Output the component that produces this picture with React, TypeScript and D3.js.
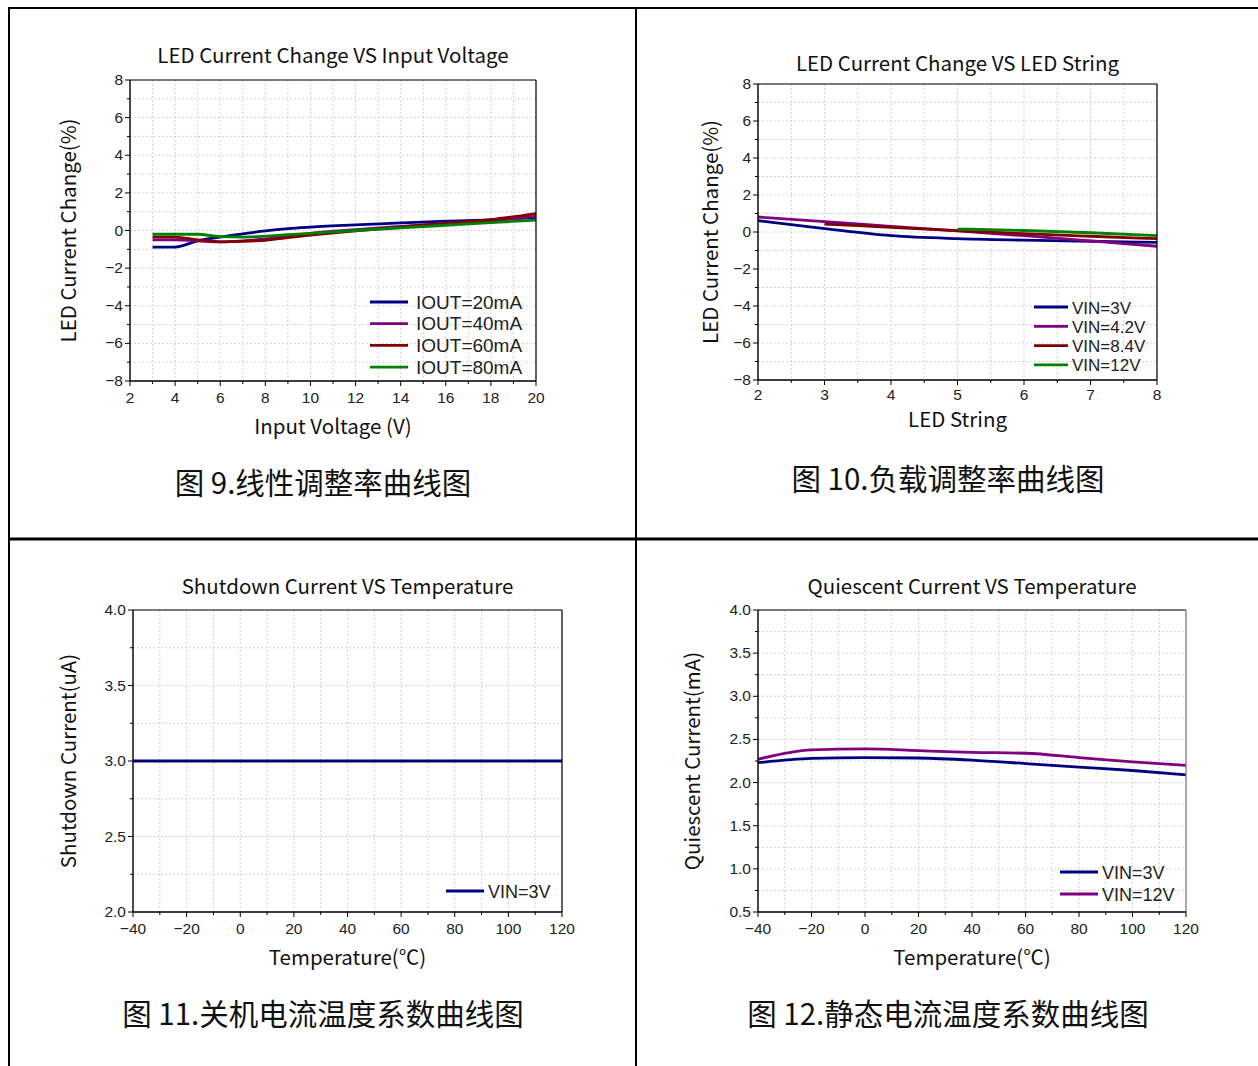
import React from "react";
import * as d3 from "d3";

// ---------- Data ----------
// Chart 1: LED Current Change VS Input Voltage
const vinX = [3, 4, 5, 6, 7, 8, 9, 10, 12, 14, 16, 18, 20];
const iout20 = [-0.88, -0.88, -0.55, -0.35, -0.18, -0.02, 0.1, 0.18, 0.3, 0.4, 0.5, 0.57, 0.7];
const iout40 = [-0.5, -0.5, -0.55, -0.6, -0.55, -0.45, -0.3, -0.15, 0.05, 0.22, 0.38, 0.52, 0.75];
const iout60 = [-0.35, -0.35, -0.5, -0.6, -0.58, -0.52, -0.38, -0.25, -0.02, 0.18, 0.38, 0.58, 0.9];
const iout80 = [-0.2, -0.2, -0.2, -0.33, -0.35, -0.3, -0.22, -0.15, 0.0, 0.14, 0.28, 0.42, 0.55];
const chart1Labels = ["IOUT=20mA", "IOUT=40mA", "IOUT=60mA", "IOUT=80mA"];

// Chart 2: LED Current Change VS LED String
const strX = [2, 3, 4, 5, 6, 7, 8];
const vin3 = [0.61, 0.18, -0.2, -0.36, -0.44, -0.5, -0.56];
const vin42 = [0.81, 0.56, 0.3, 0.06, -0.2, -0.48, -0.77];
const vin84X = [3, 4, 5, 6, 7, 8];
const vin84 = [0.43, 0.25, 0.07, -0.09, -0.23, -0.36];
const vin12X = [5, 6, 7, 8];
const vin12 = [0.16, 0.08, -0.04, -0.2];
const chart2Labels = ["VIN=3V", "VIN=4.2V", "VIN=8.4V", "VIN=12V"];

// Chart 3: Shutdown Current VS Temperature
const tempX = [-40, -20, 0, 20, 40, 60, 80, 100, 120];
const shutdown3 = [3, 3, 3, 3, 3, 3, 3, 3, 3];
const chart3Labels = ["VIN=3V"];

// Chart 4: Quiescent Current VS Temperature
const quiescent3 = [2.23, 2.28, 2.29, 2.285, 2.26, 2.22, 2.18, 2.14, 2.09];
const quiescent12 = [2.27, 2.38, 2.39, 2.37, 2.35, 2.34, 2.29, 2.24, 2.2];
const chart4Labels = ["VIN=3V", "VIN=12V"];

const NAVY = "#000080";
const PURPLE = "#800080";
const DARKRED = "#800000";
const GREEN = "#008000";

const CJK = "'Noto Sans CJK SC', 'Noto Sans', sans-serif";
const ARIAL = "'Liberation Sans', Arial, sans-serif";

type Series = { x: number[]; y: number[]; color: string; label: string };

type ChartProps = {
  left: number; right: number; top: number; bottom: number;
  xDomain: [number, number]; xMajor: number; xMinor: number;
  yDomain: [number, number]; yMajor: number; yMinor: number;
  yFmt: (v: number) => string;
  xTickOffset: number;
  title: string; titleY: number;
  xLabel: string; xLabelY: number;
  yLabel: string; yLabelX: number;
  series: Series[];
  legendX: number; legendY: number; legendDy: number; legendLen: number; legendFont: number; legendGap: number;
  rightColor?: string;
};

function range(a: number, b: number, step: number) {
  const out: number[] = [];
  const n = Math.round((b - a) / step);
  for (let i = 0; i <= n; i++) out.push(+(a + i * step).toFixed(6));
  return out;
}

const fmtMinus = (s: string) => s.replace("-", "\u2212");

function Chart(p: ChartProps) {
  const x = d3.scaleLinear().domain(p.xDomain).range([p.left, p.right]);
  const y = d3.scaleLinear().domain(p.yDomain).range([p.bottom, p.top]);
  const xMaj = range(p.xDomain[0], p.xDomain[1], p.xMajor);
  const xMin = range(p.xDomain[0], p.xDomain[1], p.xMinor);
  const yMaj = range(p.yDomain[0], p.yDomain[1], p.yMajor);
  const yMin = range(p.yDomain[0], p.yDomain[1], p.yMinor);
  const line = d3.line<[number, number]>().x((d) => x(d[0])).y((d) => y(d[1])).curve(d3.curveMonotoneX);
  const cx = (p.left + p.right) / 2;
  const cy = (p.top + p.bottom) / 2;
  return (
    <g>
      {/* grid */}
      {xMin.map((v) => (
        <line key={"gx" + v} x1={x(v)} x2={x(v)} y1={p.top} y2={p.bottom} stroke="#c8c8c8" strokeWidth={0.8} strokeDasharray="2,2" />
      ))}
      {yMin.map((v) => (
        <line key={"gy" + v} x1={p.left} x2={p.right} y1={y(v)} y2={y(v)} stroke="#c8c8c8" strokeWidth={0.8} strokeDasharray="2,2" />
      ))}
      {/* series */}
      {p.series.map((s, i) => (
        <path key={"s" + i} d={line(s.x.map((xv, j) => [xv, s.y[j]] as [number, number])) || ""} fill="none" stroke={s.color} strokeWidth={2.8} />
      ))}
      {/* frame */}
      <line x1={p.left} x2={p.right} y1={p.top} y2={p.top} stroke="#000" strokeWidth={1.2} />
      <line x1={p.right} x2={p.right} y1={p.top} y2={p.bottom} stroke={p.rightColor || "#000"} strokeWidth={1.2} />
      <line x1={p.left} x2={p.left} y1={p.top} y2={p.bottom} stroke="#000" strokeWidth={1.4} />
      <line x1={p.left} x2={p.right} y1={p.bottom} y2={p.bottom} stroke="#000" strokeWidth={1.4} />
      {/* x ticks */}
      {xMin.map((v) => (
        <line key={"xt" + v} x1={x(v)} x2={x(v)} y1={p.bottom} y2={p.bottom + (xMaj.includes(v) ? 5 : 3)} stroke="#000" strokeWidth={1} />
      ))}
      {xMaj.map((v) => (
        <text key={"xl" + v} x={x(v)} y={p.bottom + p.xTickOffset} textAnchor="middle" fontFamily={ARIAL} fontSize={15.5} fill="#222">
          {fmtMinus(String(v))}
        </text>
      ))}
      {/* y ticks */}
      {yMin.map((v) => (
        <line key={"yt" + v} x1={p.left} x2={p.left - (yMaj.includes(v) ? 5 : 3)} y1={y(v)} y2={y(v)} stroke="#000" strokeWidth={1} />
      ))}
      {yMaj.map((v) => (
        <text key={"yl" + v} x={p.left - 7} y={y(v) + 5} textAnchor="end" fontFamily={ARIAL} fontSize={15.5} fill="#222">
          {fmtMinus(p.yFmt(v))}
        </text>
      ))}
      {/* titles */}
      <text x={cx} y={p.titleY} textAnchor="middle" fontFamily={CJK} fontSize={20.5} fill="#111">{p.title}</text>
      <text x={cx} y={p.xLabelY} textAnchor="middle" fontFamily={CJK} fontSize={20.5} fill="#111">{p.xLabel}</text>
      <text transform={`translate(${p.yLabelX},${cy}) rotate(-90)`} textAnchor="middle" fontFamily={CJK} fontSize={20.5} fill="#111">{p.yLabel}</text>
      {/* legend */}
      {p.series.map((s, i) => (
        <g key={"lg" + i}>
          <line x1={p.legendX} x2={p.legendX + p.legendLen} y1={p.legendY + i * p.legendDy} y2={p.legendY + i * p.legendDy} stroke={s.color} strokeWidth={2.8} />
          <text x={p.legendX + p.legendLen + p.legendGap} y={p.legendY + i * p.legendDy + 6.5} fontFamily={ARIAL} fontSize={p.legendFont} fill="#222">{s.label}</text>
        </g>
      ))}
    </g>
  );
}

export default function App() {
  const fmt0 = (v: number) => d3.format("d")(v);
  const fmt1 = (v: number) => d3.format(".1f")(v);
  return (
    <svg width={1258} height={1066} style={{ position: "absolute", left: 0, top: 0, background: "#fff" }}>
      <rect x={0} y={0} width={1258} height={1066} fill="#fff" />
      {/* table frame */}
      <line x1={9} x2={1258} y1={8} y2={8} stroke="#000" strokeWidth={2} />
      <line x1={9} x2={9} y1={7} y2={1066} stroke="#000" strokeWidth={2} />
      <line x1={636} x2={636} y1={7} y2={1066} stroke="#000" strokeWidth={2} />
      <line x1={9} x2={1258} y1={539} y2={539} stroke="#000" strokeWidth={3} />

      <Chart
        left={130} right={536} top={80} bottom={381}
        xDomain={[2, 20]} xMajor={2} xMinor={1}
        yDomain={[-8, 8]} yMajor={2} yMinor={1}
        yFmt={fmt0} xTickOffset={22}
        title="LED Current Change VS Input Voltage" titleY={63}
        xLabel="Input Voltage (V)" xLabelY={434}
        yLabel="LED Current Change(%)" yLabelX={76}
        series={[
          { x: vinX, y: iout20, color: NAVY, label: chart1Labels[0] },
          { x: vinX, y: iout40, color: PURPLE, label: chart1Labels[1] },
          { x: vinX, y: iout60, color: DARKRED, label: chart1Labels[2] },
          { x: vinX, y: iout80, color: GREEN, label: chart1Labels[3] },
        ]}
        legendX={370} legendY={302} legendDy={21.7} legendLen={38} legendFont={19} legendGap={8}
      />
      <Chart
        left={758} right={1157} top={84} bottom={380}
        xDomain={[2, 8]} xMajor={1} xMinor={0.5}
        yDomain={[-8, 8]} yMajor={2} yMinor={1}
        yFmt={fmt0} xTickOffset={20}
        title="LED Current Change VS LED String" titleY={71}
        xLabel="LED String" xLabelY={427}
        yLabel="LED Current Change(%)" yLabelX={718}
        series={[
          { x: strX, y: vin3, color: NAVY, label: chart2Labels[0] },
          { x: strX, y: vin42, color: PURPLE, label: chart2Labels[1] },
          { x: vin84X, y: vin84, color: DARKRED, label: chart2Labels[2] },
          { x: vin12X, y: vin12, color: GREEN, label: chart2Labels[3] },
        ]}
        legendX={1034} legendY={307} legendDy={19.3} legendLen={34} legendFont={17} legendGap={4}
      />
      <Chart
        left={133} right={562} top={610} bottom={912}
        xDomain={[-40, 120]} xMajor={20} xMinor={10}
        yDomain={[2, 4]} yMajor={0.5} yMinor={0.25}
        yFmt={fmt1} xTickOffset={22}
        title="Shutdown Current VS Temperature" titleY={594}
        xLabel="Temperature(℃)" xLabelY={965}
        yLabel="Shutdown Current(uA)" yLabelX={76}
        series={[{ x: tempX, y: shutdown3, color: NAVY, label: chart3Labels[0] }]}
        legendX={446} legendY={891} legendDy={22} legendLen={38} legendFont={18} legendGap={4}
      />
      <Chart
        left={758} right={1186} top={610} bottom={912}
        xDomain={[-40, 120]} xMajor={20} xMinor={10}
        yDomain={[0.5, 4]} yMajor={0.5} yMinor={0.25}
        yFmt={fmt1} xTickOffset={22}
        title="Quiescent Current VS Temperature" titleY={594}
        xLabel="Temperature(℃)" xLabelY={965}
        yLabel="Quiescent Current(mA)" yLabelX={700}
        series={[
          { x: tempX, y: quiescent3, color: NAVY, label: chart4Labels[0] },
          { x: tempX, y: quiescent12, color: PURPLE, label: chart4Labels[1] },
        ]}
        legendX={1060} legendY={872} legendDy={22} legendLen={38} legendFont={18} legendGap={4}
        rightColor="#777"
      />

      {/* captions */}
      <text x={323} y={494} textAnchor="middle" fontFamily={CJK} fontSize={29.5} fill="#111">图 9.线性调整率曲线图</text>
      <text x={948} y={490} textAnchor="middle" fontFamily={CJK} fontSize={29.5} fill="#111">图 10.负载调整率曲线图</text>
      <text x={323} y={1025} textAnchor="middle" fontFamily={CJK} fontSize={29.5} fill="#111">图 11.关机电流温度系数曲线图</text>
      <text x={948} y={1025} textAnchor="middle" fontFamily={CJK} fontSize={29.5} fill="#111">图 12.静态电流温度系数曲线图</text>
    </svg>
  );
}
